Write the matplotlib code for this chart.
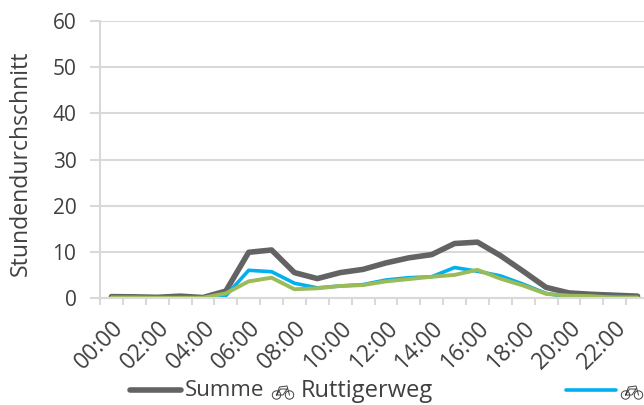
import matplotlib
matplotlib.use("Agg")
import matplotlib.pyplot as plt
from matplotlib.lines import Line2D
from matplotlib.patches import Circle
from matplotlib.transforms import Affine2D, ScaledTranslation

plt.rcParams['font.family'] = ['Open Sans', 'DejaVu Sans']

hours = ['%02d:00' % h for h in range(24)]
summe = [0.3, 0.25, 0.15, 0.4, 0.1, 1.5, 9.9, 10.4, 5.5, 4.2, 5.5, 6.2,
         7.6, 8.7, 9.4, 11.8, 12.1, 9.2, 5.8, 2.3, 1.1, 0.8, 0.6, 0.4]
richtung_a = [0.1, 0.05, 0.05, 0.05, 0.05, 0.5, 6.0, 5.7, 3.2, 2.2, 2.6, 2.9,
              3.9, 4.4, 4.6, 6.6, 5.8, 4.8, 3.0, 1.0, 0.2, 0.2, 0.3, 0.2]
richtung_b = [0.1, 0.1, 0.05, 0.05, 0.05, 1.0, 3.6, 4.4, 1.9, 2.1, 2.6, 2.8,
              3.6, 4.1, 4.6, 5.0, 6.1, 4.2, 2.7, 0.9, 0.5, 0.4, 0.05, 0.05]
y_ticks = [0, 10, 20, 30, 40, 50, 60]

text_col = '#404040'
grid_col = '#d9d9d9'
grey = '#636363'
blue = '#00b0f0'
green = '#9bbb59'

fig = plt.figure(figsize=(6.44, 4.05), dpi=100)
# axes runs past the right edge of the picture, same as the reference crop
ax = fig.add_axes([100 / 644, (405 - 298) / 405, 549 / 644, 277 / 405])

x = range(len(hours))
ax.plot(x, summe, color=grey, linewidth=4, solid_capstyle='round')
ax.plot(x, richtung_a, color=blue, linewidth=2.6, solid_capstyle='round')
ax.plot(x, richtung_b, color=green, linewidth=2.8, solid_capstyle='round')

ax.set_xlim(-0.5, 23.5)
ax.set_ylim(0, 60)
ax.set_yticks(y_ticks)
ax.set_xticks([i - 0.5 for i in x], minor=True)
ax.set_xticks(list(x)[::2])
ax.set_xticklabels(hours[::2], rotation=45, ha='right', va='top', rotation_mode='anchor',
                   fontsize=16.5, color=text_col)
shift = ScaledTranslation(2 / 100, 0, fig.dpi_scale_trans)
for lab in ax.get_xticklabels():
    lab.set_transform(lab.get_transform() + shift)
ax.tick_params(axis='x', which='major', length=0, pad=13)
ax.tick_params(axis='x', which='minor', length=5, width=1.5, color=grid_col)
ax.tick_params(axis='y', length=7, width=1.5, color=grid_col, labelsize=15, labelcolor=text_col, pad=10)
ax.set_ylabel('Stundendurchschnitt', fontsize=16.6, color=text_col)
ax.yaxis.set_label_coords(-67 / 549, 0.487)
ax.grid(axis='y', color=grid_col, linewidth=1.5)
ax.set_axisbelow(True)
for s in ['top', 'right']:
    ax.spines[s].set_visible(False)
for s in ['left', 'bottom']:
    ax.spines[s].set_color(grid_col)
    ax.spines[s].set_linewidth(1.5)

# legend is laid out by hand in picture pixels, the third entry falls outside the crop
px = Affine2D().scale(1 / 644, -1 / 405).translate(0, 1) + fig.transFigure


def draw_bike(cx, cy):
    # no installed font has the bicycle sign, so it is drawn as a small shape
    for dx in (-6.5, 6.5):
        fig.add_artist(Circle((cx + dx, cy + 3), 4.2, transform=px, fill=False, edgecolor=text_col, linewidth=0.7))
    frame_x = [-6.5, -2.5, 4, 0, -6.5, -3.5, 4, 6.5]
    frame_y = [3, -3, -3, 3, 3, -5, -6, 3]
    fig.add_artist(Line2D([cx + v for v in frame_x], [cy + v for v in frame_y], transform=px,
                          color=text_col, linewidth=0.7))


fig.add_artist(Line2D([130, 181], [390, 390], transform=px, color=grey, linewidth=4, solid_capstyle='round'))
fig.text(185, 391, 'Summe', transform=px, fontsize=16, color=text_col, va='center')
draw_bike(283, 392)
fig.text(301, 391, 'Ruttigerweg', transform=px, fontsize=17, color=text_col, va='center')
fig.add_artist(Line2D([566, 616], [390, 390], transform=px, color=blue, linewidth=2.6, solid_capstyle='round'))
draw_bike(632, 392)

fig.savefig('out.png', dpi=100)
